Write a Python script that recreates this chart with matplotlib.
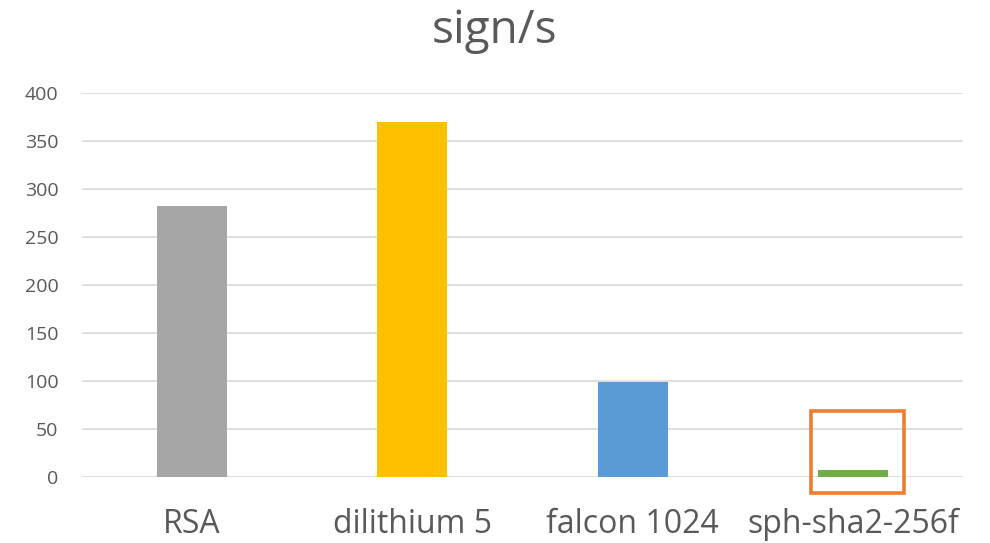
import matplotlib
matplotlib.use("Agg")
import matplotlib.pyplot as plt
from matplotlib.patches import Rectangle

categories = ["RSA", "dilithium 5", "falcon 1024", "sph-sha2-256f"]
values = [282, 370, 99, 7.5]
colors = ["#A5A5A5", "#FFC000", "#5B9BD5", "#70AD47"]
yticks = [0, 50, 100, 150, 200, 250, 300, 350, 400]

plt.rcParams['font.family'] = ['Open Sans', 'DejaVu Sans']

fig = plt.figure(figsize=(9.9, 5.43), dpi=100)
ax = fig.add_axes([82/990, 66/543, (963-82)/990, 384/543])

x = list(range(len(categories)))
ax.bar(x, values, width=0.318, color=colors, zorder=3)
ax.set_xlim(-0.5, 3.5)
ax.set_ylim(0, 400)
ax.set_yticks(yticks)
ax.set_yticklabels([str(t) for t in yticks])
ax.set_xticks(x)
ax.set_xticklabels(categories)
ax.grid(axis='y', color='#D9D9D9', linewidth=1.2, zorder=0)
for s in ax.spines.values():
    s.set_visible(False)
ax.tick_params(axis='y', length=0, pad=17, labelsize=14, labelcolor='#595959')
ax.tick_params(axis='x', length=0, pad=22, labelsize=23, labelcolor='#595959')

fig.text(0.5, 1 - 31/543, "sign/s", ha='center', va='center', fontsize=33, color='#595959')

rect = Rectangle((2.809, -16.7), 3.232 - 2.809, 68.75 + 16.7, fill=False,
                 edgecolor='#ED7D31', linewidth=2.6, clip_on=False, zorder=5)
ax.add_patch(rect)

fig.savefig("out.png", dpi=100)
